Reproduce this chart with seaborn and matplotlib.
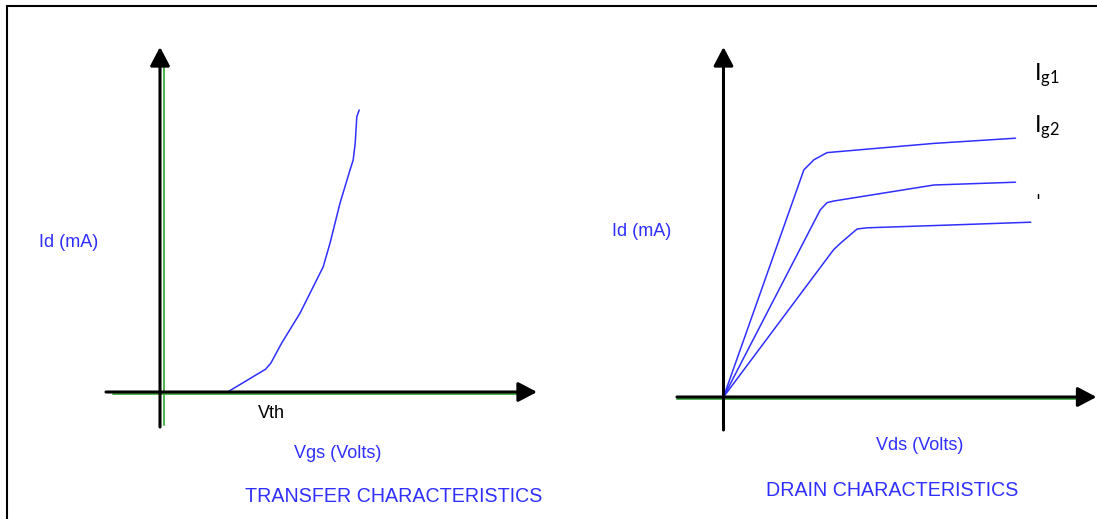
import matplotlib
matplotlib.use("Agg")
import matplotlib.pyplot as plt
from matplotlib.lines import Line2D
import numpy as np
import pandas as pd
import seaborn as sns

# Transfer characteristic (Vgs -> Id), schematic units
vgs = [1.69, 2.64, 2.77, 3.04, 3.50, 4.08, 4.25, 4.50, 4.75, 4.83, 4.88, 4.92, 4.98]
id_transfer = [0.0, 0.57, 0.72, 1.22, 1.97, 3.13, 3.72, 4.72, 5.55, 5.80, 6.22, 6.88, 7.05]

# Drain characteristics (Vds -> Id) for three gate currents
vds_g1 = [0.0, 2.01, 2.26, 2.59, 5.26, 7.30]
id_g1 = [0.0, 5.68, 5.93, 6.11, 6.34, 6.47]
vds_g2 = [0.0, 2.42, 2.59, 2.76, 5.26, 7.30]
id_g2 = [0.0, 4.68, 4.86, 4.90, 5.30, 5.37]
vds_g3 = [0.0, 2.75, 2.93, 3.34, 3.59, 5.68, 7.68]
id_g3 = [0.0, 3.68, 3.85, 4.20, 4.23, 4.30, 4.37]
gate_labels = ["g1", "g2", "g3"]

BLUE = "#2f2fff"
GREEN = "#4cb34c"
W, H = 1097, 519

sns.set_style("white")
plt.rcParams["font.family"] = ["Liberation Sans", "DejaVu Sans"]

fig = plt.figure(figsize=(W / 100, H / 100), dpi=100)


def add_panel(x0, x1, y0, y1):
    ax = fig.add_axes([x0 / W, 1 - y1 / H, (x1 - x0) / W, (y1 - y0) / H])
    ax.set_axis_off()
    return ax


def arrow(ax, tail, tip):
    ax.annotate("", xy=tip, xytext=tail,
                arrowprops=dict(arrowstyle="-|>,head_length=0.95,head_width=0.5",
                                lw=2.2, color="black", mutation_scale=12,
                                shrinkA=0, shrinkB=0),
                annotation_clip=False)


# ---------------- transfer characteristics ----------------
axL = add_panel(95, 550, 40, 435)
axL.set_xlim(-1.625, 9.75)
axL.set_ylim(-1.075, 8.8)

axL.plot([0.0875, 0.0875], [-0.825, 8.225], color=GREEN, lw=1.4)
axL.plot([-1.175, 9.0], [-0.05, -0.05], color=GREEN, lw=1.4)
arrow(axL, (0, -0.875), (0, 8.625))
arrow(axL, (-1.35, 0), (9.425, 0))

sns.lineplot(x=vgs, y=id_transfer, ax=axL, color=BLUE, lw=1.1,
             sort=False, estimator=None)

axL.text(-2.275, 3.725, "Id (mA)", color=BLUE, fontsize=13, ha="center", va="center")
axL.text(2.775, -0.525, "Vth", color="black", fontsize=13, ha="center", va="center")
axL.text(4.45, -1.525, "Vgs (Volts)", color=BLUE, fontsize=13, ha="center", va="center")
axL.text(5.85, -2.6, "TRANSFER CHARACTERISTICS", color=BLUE, fontsize=14.1,
         ha="center", va="center")

# ---------------- drain characteristics ----------------
axR = add_panel(670, 1097, 40, 440)
axR.set_xlim(-1.3375, 9.3375)
axR.set_ylim(-1.075, 8.925)

axR.plot([-1.16, 9.16], [-0.0375, -0.0375], color=GREEN, lw=1.4)
arrow(axR, (0, -0.825), (0, 8.75))
arrow(axR, (-1.1625, 0), (9.325, 0))

drain = pd.concat([
    pd.DataFrame({"vds": vds_g1, "id": id_g1, "gate": gate_labels[0]}),
    pd.DataFrame({"vds": vds_g2, "id": id_g2, "gate": gate_labels[1]}),
    pd.DataFrame({"vds": vds_g3, "id": id_g3, "gate": gate_labels[2]}),
])
sns.lineplot(data=drain, x="vds", y="id", hue="gate", ax=axR,
             palette=[BLUE] * 3, lw=1.1, sort=False, estimator=None, legend=False)

axR.text(-2.0375, 4.15, "Id (mA)", color=BLUE, fontsize=13, ha="center", va="center")
axR.text(4.9125, -1.2, "Vds (Volts)", color=BLUE, fontsize=13, ha="center", va="center")
axR.text(4.2125, -2.325, "DRAIN CHARACTERISTICS", color=BLUE, fontsize=14.1,
         ha="center", va="center")
axR.text(7.76, 8.05, r"$\mathregular{I_{g1}}$", color="black", fontsize=17,
         family="Lato", ha="left", va="center")
axR.text(7.76, 6.75, r"$\mathregular{I_{g2}}$", color="black", fontsize=17,
         family="Lato", ha="left", va="center")
axR.text(7.86, 5.1, "'", color="black", fontsize=13, family="DejaVu Sans",
         ha="center", va="top")

# frame edges along the top and left
fig.add_artist(Line2D([7 / W, 1], [1 - 6 / H, 1 - 6 / H], color="black", lw=1.5))
fig.add_artist(Line2D([7 / W, 7 / W], [0, 1 - 6 / H], color="black", lw=1.5))

fig.savefig("out.png", dpi=100)
